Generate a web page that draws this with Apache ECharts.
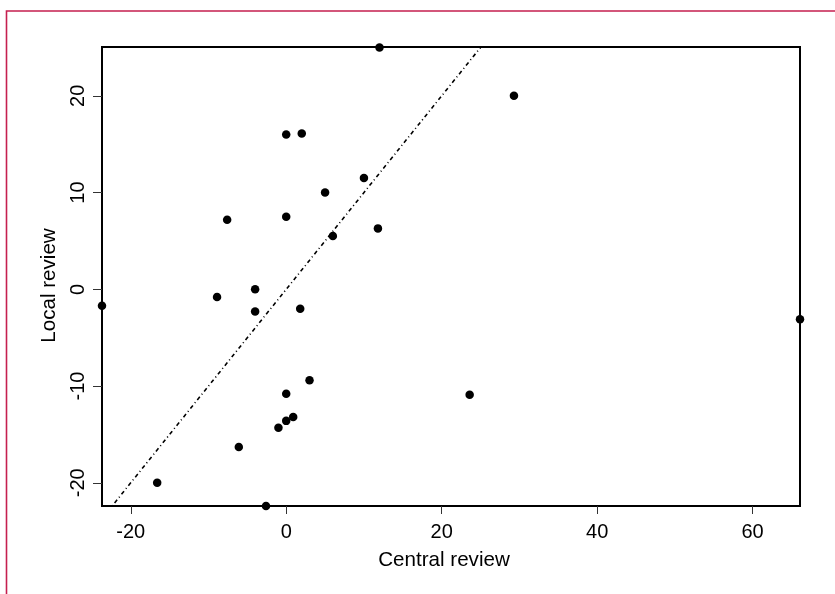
<!DOCTYPE html>
<html>
<head>
<meta charset="utf-8">
<script src="https://cdn.jsdelivr.net/npm/echarts@6/dist/echarts.min.js"></script>
<style>
html,body{margin:0;padding:0;background:#fff;}
#chart{width:835px;height:594px;}
</style>
</head>
<body>
<div id="chart"></div>
<script>
// Data
var centralReview = [12, 0, 2, 10, 5, -7.6, 0, 6, 11.8, -4, -8.9, 29.3, -23.7, -4, 1.8, 3, 0, 0.9, 0, -1, -6.1, -16.6, -2.6, 23.6, 66.1];
var localReview   = [25, 16, 16.1, 11.5, 10, 7.2, 7.5, 5.5, 6.3, 0, -0.8, 20, -1.7, -2.3, -2, -9.4, -10.8, -13.2, -13.6, -14.3, -16.3, -20, -22.4, -10.9, -3.1];
var xTicks = [-20, 0, 20, 40, 60];
var yTicks = [-20, -10, 0, 10, 20];
var xMin = -23.7, xMax = 66.1;
var yMin = -22.4, yMax = 25.05;

var points = centralReview.map(function (x, i) { return [x, localReview[i]]; });
var lo = Math.max(xMin, yMin), hi = Math.min(xMax, yMax);
var identityLine = [[lo, lo], [hi, hi]];

var font = 'Liberation Sans, Arial, Helvetica, sans-serif';
var chart = echarts.init(document.getElementById('chart'), null, {renderer: 'canvas'});
chart.setOption({
  animation: false,
  backgroundColor: '#ffffff',
  graphic: [{
    type: 'rect',
    shape: {x: 6.5, y: 11, width: 2000, height: 2000},
    style: {fill: 'none', stroke: '#c51f4f', lineWidth: 1.6},
    silent: true
  }],
  grid: {
    left: 102, top: 47, right: 35, bottom: 88,
    show: true, borderColor: '#000', borderWidth: 2, backgroundColor: 'transparent'
  },
  xAxis: {
    type: 'value', min: xMin, max: xMax,
    name: 'Central review', nameLocation: 'middle', nameGap: 44,
    nameTextStyle: {fontFamily: font, fontSize: 20.6, color: '#000', padding: [0, 14, 0, 0]},
    axisLine: {show: true, onZero: false, lineStyle: {color: '#000', width: 2}},
    axisTick: {show: true, length: 8, lineStyle: {color: '#333', width: 1}, customValues: xTicks},
    axisLabel: {show: true, fontFamily: font, fontSize: 20, color: '#000', margin: 16, customValues: xTicks},
    splitLine: {show: false}
  },
  yAxis: {
    type: 'value', min: yMin, max: yMax,
    name: 'Local review', nameLocation: 'middle', nameGap: 42, nameRotate: 90,
    nameTextStyle: {fontFamily: font, fontSize: 20.6, color: '#000', padding: [0, 18, 0, 0]},
    axisLine: {show: true, onZero: false, lineStyle: {color: '#000', width: 2}},
    axisTick: {show: true, length: 9, lineStyle: {color: '#333', width: 1}, customValues: yTicks},
    axisLabel: {show: true, fontFamily: font, fontSize: 20, color: '#000', margin: 14, rotate: 90, customValues: yTicks},
    splitLine: {show: false}
  },
  series: [{
    type: 'line',
    data: identityLine,
    symbol: 'none',
    lineStyle: {color: '#000', width: 1.6, type: [1, 3, 4, 3]},
    silent: true,
    z: 1
  }, {
    type: 'scatter',
    data: points,
    symbol: 'circle',
    symbolSize: 8.5,
    itemStyle: {color: '#000', opacity: 1},
    clip: false,
    z: 3
  }]
});
</script>
</body>
</html>
